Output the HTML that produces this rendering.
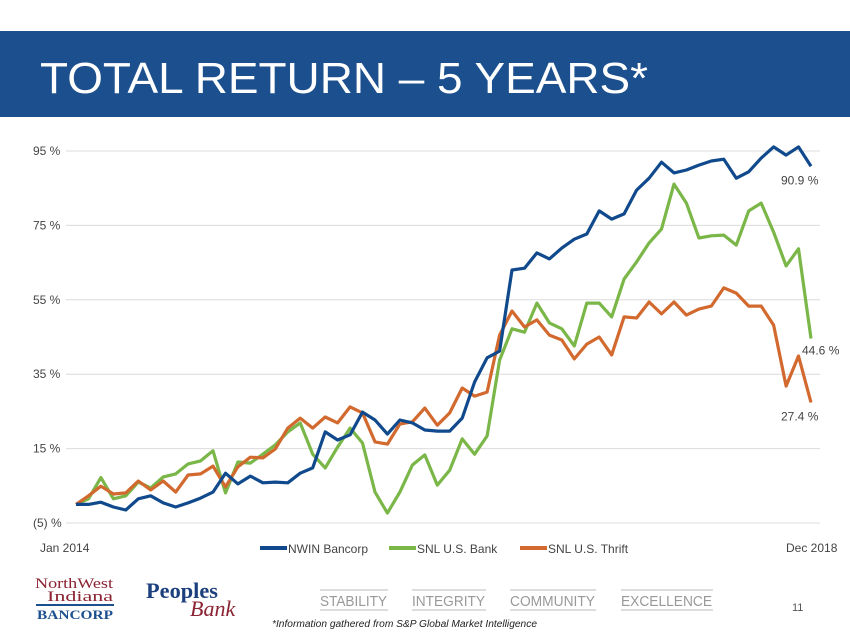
<!DOCTYPE html>
<html><head><meta charset="utf-8"><style>
html,body{margin:0;padding:0;background:#fff;}
svg{display:block;font-family:"Liberation Sans",sans-serif;}
</style></head><body>
<svg id="chart" width="850" height="637" viewBox="0 0 850 637">
<rect x="0" y="31" width="850" height="86" fill="#1c4f8e"/>
<text x="40" y="93" font-size="44" fill="#fff" textLength="608" lengthAdjust="spacingAndGlyphs">TOTAL RETURN – 5 YEARS*</text>
<g id="grid"></g>
<g id="lines"></g>
<text x="40" y="552" font-size="12" fill="#444">Jan 2014</text>
<text x="786" y="552" font-size="12" fill="#444">Dec 2018</text>
<g>
<g><line x1="260" y1="548" x2="287" y2="548" stroke="#114a8c" stroke-width="4"/><text x="288" y="553" font-size="12" fill="#444">NWIN Bancorp</text></g>
<g><line x1="389" y1="548" x2="416" y2="548" stroke="#7ab648" stroke-width="4"/><text x="417" y="553" font-size="12" fill="#444">SNL U.S. Bank</text></g>
<g><line x1="520" y1="548" x2="547" y2="548" stroke="#d2692e" stroke-width="4"/><text x="548" y="553" font-size="12" fill="#444">SNL U.S. Thrift</text></g>
</g>
<g>
<text x="35" y="588" font-size="15" fill="#8b2332" font-family="Liberation Serif,serif" textLength="78" lengthAdjust="spacingAndGlyphs">NorthWest</text>
<text x="47" y="601" font-size="15" fill="#8b2332" font-family="Liberation Serif,serif" textLength="66" lengthAdjust="spacingAndGlyphs">Indiana</text>
<rect x="36" y="604" width="78" height="2" fill="#1c4f8e"/>
<text x="37" y="619" font-size="13" font-weight="bold" fill="#1c4f8e" font-family="Liberation Serif,serif" textLength="76" lengthAdjust="spacingAndGlyphs">BANCORP</text>
</g>
<g>
<text x="146" y="598" font-size="22" font-weight="bold" fill="#1c3f7e" font-family="Liberation Serif,serif" textLength="72" lengthAdjust="spacingAndGlyphs">Peoples</text>
<text x="190" y="616" font-size="22" font-style="italic" fill="#8b2332" font-family="Liberation Serif,serif">Bank</text>
</g>
<g font-size="15" fill="#999">
<line x1="320" y1="590" x2="388" y2="590" stroke="#bbb"/><line x1="320" y1="610" x2="388" y2="610" stroke="#bbb"/>
<text x="320" y="606" textLength="67" lengthAdjust="spacingAndGlyphs">STABILITY</text>
<line x1="412" y1="590" x2="486" y2="590" stroke="#bbb"/><line x1="412" y1="610" x2="486" y2="610" stroke="#bbb"/>
<text x="412" y="606" textLength="73" lengthAdjust="spacingAndGlyphs">INTEGRITY</text>
<line x1="510" y1="590" x2="596" y2="590" stroke="#bbb"/><line x1="510" y1="610" x2="596" y2="610" stroke="#bbb"/>
<text x="510" y="606" textLength="85" lengthAdjust="spacingAndGlyphs">COMMUNITY</text>
<line x1="621" y1="590" x2="713" y2="590" stroke="#bbb"/><line x1="621" y1="610" x2="713" y2="610" stroke="#bbb"/>
<text x="621" y="606" textLength="91" lengthAdjust="spacingAndGlyphs">EXCELLENCE</text>
</g>
<text x="792" y="611" font-size="11" fill="#555">11</text>
<text x="272" y="627" font-size="10" font-style="italic" fill="#222" textLength="265" lengthAdjust="spacingAndGlyphs">*Information gathered from S&amp;P Global Market Intelligence</text>
</svg>
<script>
const yTicks = [95, 75, 55, 35, 15, -5];
const yTickLabels = ["95 %", "75 %", "55 %", "35 %", "15 %", "(5) %"];
const nwin = [0,0,0.6,-0.7,-1.5,1.5,2.3,0.4,-0.7,0.4,1.7,3.3,8.4,5.5,7.6,5.8,6,5.8,8.4,9.8,19.5,17.3,18.7,24.8,22.7,18.9,22.7,21.9,20,19.7,19.7,23.2,32.9,39.4,41.2,63,63.5,67.6,66,68.9,71.3,72.7,78.9,76.7,78.1,84.5,87.7,92,89.1,89.9,91.2,92.3,92.8,87.7,89.4,93.1,96.1,93.9,96.1,90.9];
const bank = [0,1.5,7.2,1.5,2.3,6,4.4,7.4,8.2,10.9,11.7,14.4,3.1,11.4,11.1,13.5,16,19.5,21.9,13.5,9.8,15.4,20.5,16.5,3.3,-2.3,3.3,10.6,13.3,5.2,9.2,17.6,13.5,18.4,38.8,47.2,46.3,54.1,48.8,47.2,42.6,54.1,54.1,50.4,60.6,65.2,70.3,74,86.1,81,71.6,72.2,72.4,69.7,78.9,81,73.2,64.1,68.7,44.6];
const thrift = [0,2.3,4.9,2.8,3.1,6.3,3.9,6.3,3.3,7.9,8.2,10.3,4.7,10.1,12.7,12.5,14.9,20.5,23.2,20.5,23.5,21.9,26.2,24.6,16.8,16.2,21.6,22.2,25.9,21.3,24.6,31.3,29.1,30.2,45.5,52,47.7,49.6,45.5,44.2,39.1,43.1,45,40.2,50.4,50.1,54.4,51.2,54.4,50.9,52.5,53.3,58.2,56.8,53.3,53.3,48.2,31.8,39.9,27.4];
const endLabels = ["90.9 %", "44.6 %", "27.4 %"];

const NS = "http://www.w3.org/2000/svg";
const x0 = 76, x1 = 811, yTop = 151, yBot = 523;
function xs(i, n) { return x0 + (x1 - x0) * i / (n - 1); }
function ys(v) { return yTop + (95 - v) * (yBot - yTop) / 100; }
const grid = document.getElementById('grid');
yTicks.forEach((t, k) => {
  const l = document.createElementNS(NS, 'line');
  l.setAttribute('x1', 66); l.setAttribute('x2', 820);
  l.setAttribute('y1', ys(t)); l.setAttribute('y2', ys(t));
  l.setAttribute('stroke', '#dcdcdc'); l.setAttribute('stroke-width', '1');
  
  
  grid.appendChild(l);
  const tx = document.createElementNS(NS, 'text');
  tx.setAttribute('x', 33); tx.setAttribute('y', ys(t) + 4);
  tx.setAttribute('font-size', '12'); tx.setAttribute('fill', '#444');
  tx.textContent = yTickLabels[k];
  
  
  grid.appendChild(tx);
});
const lines = document.getElementById('lines');
const series = [[bank, '#7ab648', 'bank-line'], [thrift, '#d2692e', 'thrift-line'], [nwin, '#114a8c', 'nwin-line']];
series.forEach(s => {
  const p = document.createElementNS(NS, 'polyline');
  p.setAttribute('points', s[0].map((v, i) => xs(i, s[0].length).toFixed(1) + ',' + ys(v).toFixed(1)).join(' '));
  p.setAttribute('fill', 'none'); p.setAttribute('stroke', s[1]);
  p.setAttribute('stroke-width', '3.2'); p.setAttribute('stroke-linejoin', 'round');
  
  
  lines.appendChild(p);
});
[[nwin, 30, 18], [bank, 9, 16], [thrift, 30, 18]].forEach((d, k) => {
  const arr = d[0], n = arr.length;
  const tx = document.createElementNS(NS, 'text');
  tx.setAttribute('x', xs(n - 1, n) - d[1]);
  tx.setAttribute('y', ys(arr[n - 1]) + d[2]);
  tx.setAttribute('font-size', '12'); tx.setAttribute('fill', '#444');
  tx.textContent = endLabels[k];
  
  
  lines.appendChild(tx);
});
</script>
</body></html>
